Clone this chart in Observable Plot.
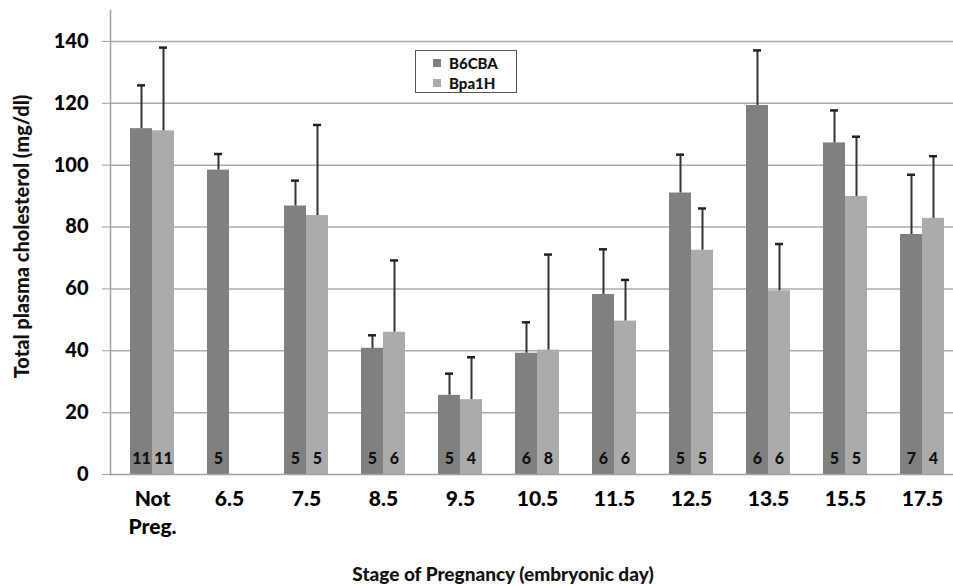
<!DOCTYPE html>
<html>
<head>
<meta charset="utf-8">
<script src="https://cdn.jsdelivr.net/npm/d3@7"></script>
<script src="https://cdn.jsdelivr.net/npm/@observablehq/plot@0.6"></script>
<style>
  body { margin: 0; background: #fff; font-family: Lato, "Open Sans", sans-serif; }
  #wrap { position: relative; width: 953px; height: 585px; overflow: hidden; }
  #legend { position: absolute; left: 415px; top: 50px; width: 102px; height: 43px; box-sizing: border-box;
            border: 1.5px solid #555; background: #fff; font-weight: 900; font-size: 15px; color: #111; }
  #legend .row { position: absolute; left: 17px; display: flex; align-items: center; height: 16px; }
  #legend .sw { width: 8px; height: 8px; margin-right: 8px; }
</style>
</head>
<body>
<div id="wrap"><div id="chart"></div><div id="legend"></div></div>
<script>
const stages = ["Not\nPreg.", "6.5", "7.5", "8.5", "9.5", "10.5", "11.5", "12.5", "13.5", "15.5", "17.5"];
const strains = ["B6CBA", "Bpa1H"];
const colors = ["#808080", "#ababab"];
const b6cbaMean = [111.8, 98.4, 86.8, 40.8, 25.6, 39.2, 58.2, 91.0, 119.3, 107.2, 77.6];
const b6cbaTop  = [125.8, 103.6, 95.0, 45.0, 32.6, 49.2, 72.8, 103.4, 137.1, 117.7, 96.9];
const b6cbaN    = [11, 5, 5, 5, 5, 6, 6, 5, 6, 5, 7];
const bpa1hMean = [111.1, null, 83.7, 46.0, 24.2, 40.2, 49.6, 72.5, 59.4, 89.9, 82.8];
const bpa1hTop  = [138.0, null, 113.0, 69.2, 37.9, 71.1, 62.9, 86.0, 74.5, 109.2, 102.9];
const bpa1hN    = [11, null, 5, 6, 4, 8, 6, 5, 6, 5, 4];
const yTicks = [0, 20, 40, 60, 80, 100, 120, 140];
const yLabel = "Total plasma cholesterol (mg/dl)";
const xLabel = "Stage of Pregnancy (embryonic day)";

const b6 = stages.map((s, i) => ({stage: s, strain: strains[0], mean: b6cbaMean[i], top: b6cbaTop[i], n: b6cbaN[i]}));
const bp = stages.map((s, i) => ({stage: s, strain: strains[1], mean: bpa1hMean[i], top: bpa1hTop[i], n: bpa1hN[i]}))
  .filter(d => d.mean != null);

const bold = {fontWeight: 900};
const chart = Plot.plot({
  width: 953,
  height: 585,
  marginLeft: 110,
  marginRight: -10,
  marginTop: 10,
  marginBottom: 111,
  style: {fontFamily: "Lato, 'Open Sans', sans-serif", color: "#000", background: "#fff"},
  x: {domain: stages, paddingInner: 0.432, paddingOuter: 0.219},
  y: {domain: [0, 150]},
  color: {domain: strains, range: colors},
  marks: [
    Plot.gridY(yTicks.filter(d => d > 0), {stroke: "#ababab", strokeOpacity: 1, strokeWidth: 1.5}),
    Plot.axisY({ticks: yTicks, tickSize: 8, tickPadding: 14, fontSize: 20, ...bold, stroke: "#a0a0a0", label: null}),
    Plot.axisX({tickSize: 0, tickPadding: 12, fontSize: 21, ...bold, lineHeight: 1.33, label: null}),
    Plot.barY(b6, {x: "stage", y: "mean", fill: "strain", insetRight: 22, insetLeft: 0}),
    Plot.barY(bp, {x: "stage", y: "mean", fill: "strain", insetLeft: 22, insetRight: 0}),
    Plot.ruleX(b6, {x: "stage", y1: "mean", y2: "top", dx: -11, stroke: "#333", strokeWidth: 2}),
    Plot.ruleX(bp, {x: "stage", y1: "mean", y2: "top", dx: 11, stroke: "#333", strokeWidth: 2}),
    Plot.tickY(b6, {x: "stage", y: "top", insetLeft: 7, insetRight: 29, stroke: "#222", strokeWidth: 2.5}),
    Plot.tickY(bp, {x: "stage", y: "top", insetLeft: 29, insetRight: 7, stroke: "#222", strokeWidth: 2.5}),
    Plot.text(b6, {x: "stage", y: 0, text: d => String(d.n), dx: -11, dy: -16, fontSize: 16, ...bold, fill: "#111"}),
    Plot.text(bp, {x: "stage", y: 0, text: d => String(d.n), dx: 11, dy: -16, fontSize: 16, ...bold, fill: "#111"}),
    Plot.ruleY([0], {stroke: "#a0a0a0", strokeWidth: 1.5}),
    Plot.frame({anchor: "left", stroke: "#a0a0a0", strokeWidth: 1.5}),
    Plot.text([yLabel], {frameAnchor: "left", textAnchor: "middle", rotate: -90, dx: -88, dy: -6, fontSize: 20, ...bold, fill: "#111"}),
    Plot.text([xLabel], {frameAnchor: "bottom", dx: -34, dy: 106, fontSize: 19, ...bold, fill: "#111"})
  ]
});
document.getElementById("chart").appendChild(chart);

const legend = document.getElementById("legend");
strains.forEach((s, i) => {
  const row = document.createElement("div");
  row.className = "row";
  row.style.top = (4 + i * 20) + "px";
  const sw = document.createElement("span");
  sw.className = "sw";
  sw.style.background = colors[i];
  const t = document.createElement("span");
  t.textContent = s;
  row.appendChild(sw); row.appendChild(t);
  legend.appendChild(row);
});
</script>
</body>
</html>
